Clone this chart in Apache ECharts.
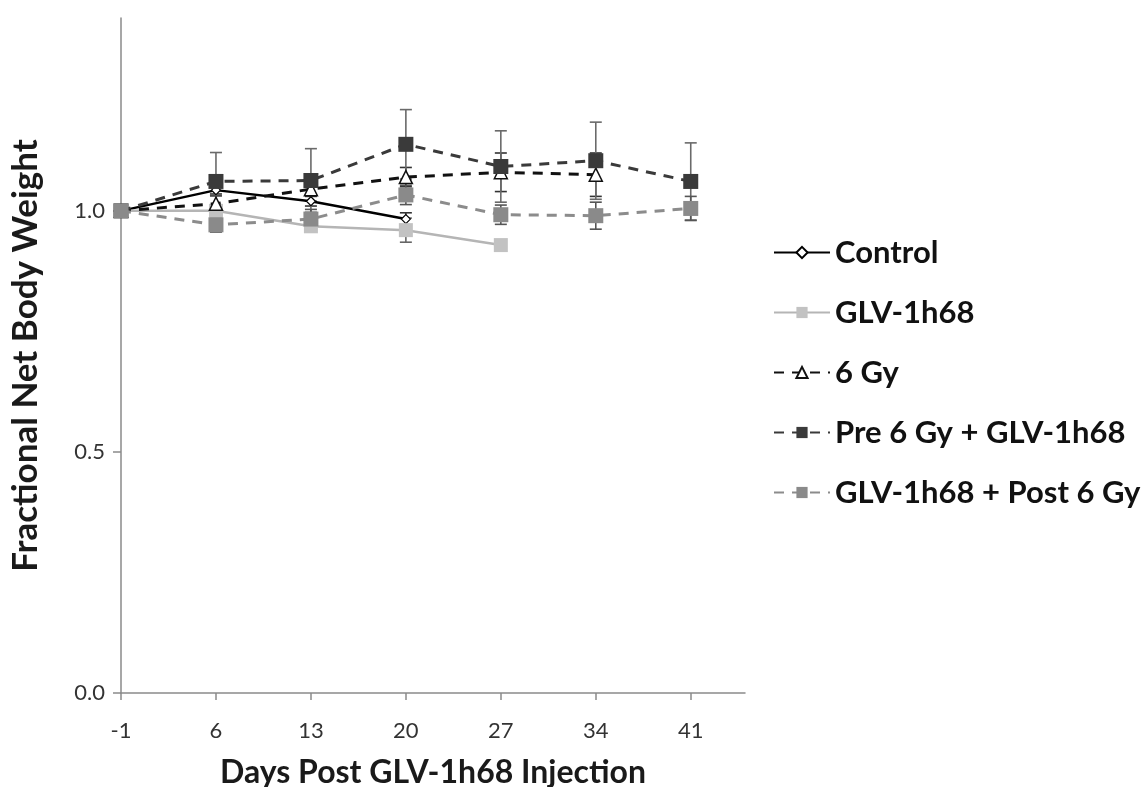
<!DOCTYPE html>
<html><head><meta charset="utf-8">
<script src="https://cdn.jsdelivr.net/npm/echarts@6/dist/echarts.min.js"></script>
<style>html,body{margin:0;padding:0;background:#fff}#c{width:1142px;height:787px}</style>
</head><body><div id="c"></div>
<script>
const xTicks = [-1, 6, 13, 20, 27, 34, 41];
const yTicks = [0, 0.5, 1.0];
const seriesNames = ['Control', 'GLV-1h68', '6 Gy', 'Pre 6 Gy + GLV-1h68', 'GLV-1h68 + Post 6 Gy'];
const controlDays = [-1, 6, 13, 20];
const control = [1.0, 1.043, 1.02, 0.983];
const controlErr = [0, 0.012, 0.01, 0.013];
const glvDays = [-1, 6, 13, 20, 27];
const glv = [1.0, 1.0, 0.968, 0.96, 0.929];
const glvErr = [0, 0.01, 0.01, 0.025, 0.008];
const gyDays = [-1, 6, 13, 20, 27, 34];
const gy6 = [1.0, 1.015, 1.045, 1.07, 1.08, 1.075];
const gy6Err = [0, 0.02, 0.025, 0.02, 0.04, 0.045];
const preDays = [-1, 6, 13, 20, 27, 34, 41];
const pre = [1.0, 1.061, 1.063, 1.138, 1.092, 1.104, 1.061];
const preErr = [0, 0.06, 0.066, 0.072, 0.074, 0.08, 0.08];
const postDays = [-1, 6, 13, 20, 27, 34, 41];
const post = [1.0, 0.971, 0.983, 1.033, 0.992, 0.99, 1.005];
const postErr = [0, 0.015, 0.02, 0.02, 0.02, 0.028, 0.025];

const pairs = (xs, ys) => xs.map((x, i) => [x, ys[i]]);
const errs = (xs, ys, es) => xs.map((x, i) => [x, ys[i] - es[i], ys[i] + es[i]]).filter((d, i) => es[i] > 0);

function errSeries(data, color) {
  return {
    type: 'custom', data: data, z: 1, silent: true,
    renderItem: function (params, api) {
      const x = api.value(0), lo = api.value(1), hi = api.value(2);
      const p1 = api.coord([x, hi]), p2 = api.coord([x, lo]);
      const w = 6;
      const st = { stroke: color, lineWidth: 1.6 };
      return { type: 'group', children: [
        { type: 'line', shape: { x1: p1[0], y1: p1[1], x2: p2[0], y2: p2[1] }, style: st },
        { type: 'line', shape: { x1: p1[0] - w, y1: p1[1], x2: p1[0] + w, y2: p1[1] }, style: st },
        { type: 'line', shape: { x1: p2[0] - w, y1: p2[1], x2: p2[0] + w, y2: p2[1] }, style: st }
      ]};
    }
  };
}

const FONT = 'Lato';
const chart = echarts.init(document.getElementById('c'), null, { renderer: 'canvas' });
chart.setOption({
  animation: false,
  backgroundColor: '#ffffff',
  grid: { left: 121, right: 397, top: 18, bottom: 94, containLabel: false, outerBoundsMode: 'none' },
  xAxis: {
    type: 'value', min: -1, max: 45,
    name: 'Days Post GLV-1h68 Injection', nameLocation: 'middle', nameGap: 64,
    nameTextStyle: { fontFamily: FONT, fontWeight: 'bold', fontSize: 32, color: '#1a1a1a' },
    axisLine: { show: true, onZero: false, lineStyle: { color: '#8a8a8a', width: 1.5 } },
    axisTick: { show: true, inside: false, length: 7, customValues: xTicks, lineStyle: { color: '#8a8a8a', width: 1.5 } },
    axisLabel: { customValues: xTicks, fontFamily: FONT, fontSize: 22, color: '#333', margin: 27 },
    splitLine: { show: false }
  },
  yAxis: {
    type: 'value', min: 0, max: 1.4,
    name: 'Fractional Net Body Weight', nameLocation: 'middle', nameGap: 78, nameRotate: 90,
    nameTextStyle: { fontFamily: FONT, fontWeight: 'bold', fontSize: 35, color: '#1a1a1a' },
    axisLine: { show: true, onZero: false, lineStyle: { color: '#8a8a8a', width: 1.5 } },
    axisTick: { show: true, inside: false, length: 8, customValues: yTicks, lineStyle: { color: '#8a8a8a', width: 1.5 } },
    axisLabel: { customValues: yTicks, fontFamily: FONT, fontSize: 22, color: '#333', margin: 16,
      formatter: v => v.toFixed(1) },
    splitLine: { show: false }
  },
  legend: {
    orient: 'vertical', left: 768, top: 232, itemGap: 29, itemWidth: 56, itemHeight: 14,
    data: seriesNames,
    textStyle: { fontFamily: FONT, fontWeight: 'bold', fontSize: 31, lineHeight: 30, color: '#111' }
  },
  series: [
    errSeries(errs(controlDays, control, controlErr), '#333'),
    errSeries(errs(glvDays, glv, glvErr), '#666'),
    errSeries(errs(gyDays, gy6, gy6Err), '#333'),
    errSeries(errs(preDays, pre, preErr), '#6a6a6a'),
    errSeries(errs(postDays, post, postErr), '#555'),
    { name: 'Control', type: 'line', data: pairs(controlDays, control), z: 2,
      symbol: 'diamond', symbolSize: 9,
      lineStyle: { color: '#000', width: 2.5 },
      itemStyle: { color: '#fff', borderColor: '#000', borderWidth: 1.2 } },
    { name: 'GLV-1h68', type: 'line', data: pairs(glvDays, glv), z: 3,
      symbol: 'rect', symbolSize: 14,
      lineStyle: { color: '#b5b5b5', width: 2.5 },
      itemStyle: { color: '#c2c2c2', borderWidth: 0 } },
    { name: '6 Gy', type: 'line', data: pairs(gyDays, gy6), z: 4,
      symbol: 'triangle', symbolSize: 13, showAllSymbol: true,
      lineStyle: { color: '#111', width: 3, type: [10, 8] },
      itemStyle: { color: '#fff', borderColor: '#111', borderWidth: 1.5 } },
    { name: 'Pre 6 Gy + GLV-1h68', type: 'line', data: pairs(preDays, pre), z: 5,
      symbol: 'rect', symbolSize: 15,
      lineStyle: { color: '#3a3a3a', width: 3, type: [10, 8] },
      itemStyle: { color: '#3a3a3a', borderWidth: 0 } },
    { name: 'GLV-1h68 + Post 6 Gy', type: 'line', data: pairs(postDays, post), z: 6,
      symbol: 'rect', symbolSize: 15,
      lineStyle: { color: '#8c8c8c', width: 3, type: [10, 8] },
      itemStyle: { color: '#8a8a8a', borderWidth: 0 } }
  ]
});
</script></body></html>
